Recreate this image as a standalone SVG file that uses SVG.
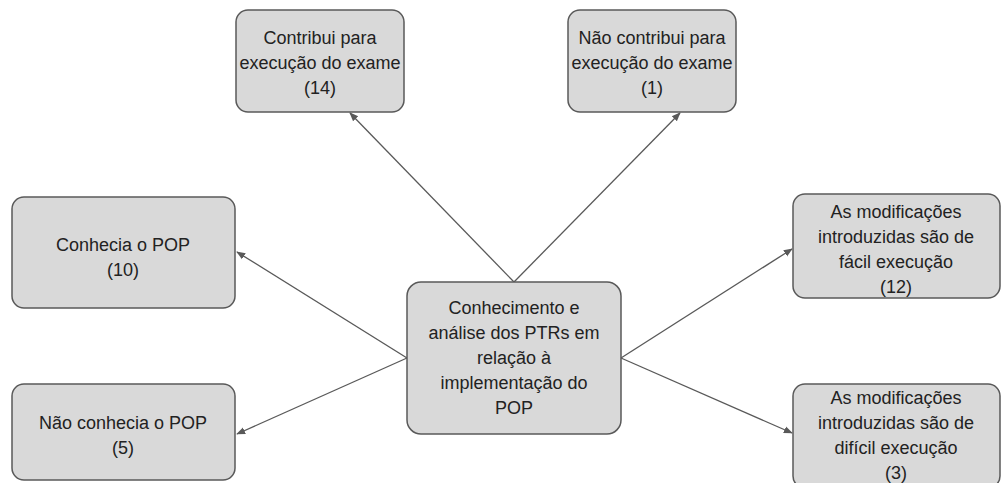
<svg xmlns="http://www.w3.org/2000/svg" width="1006" height="483" viewBox="0 0 1006 483">
<style>
.box{fill:#d9d9d9;stroke:#595959;stroke-width:1.5}
.t{font-family:"Liberation Sans",Arial,sans-serif;font-size:18px;fill:#222;text-anchor:middle;dominant-baseline:central}
.c{stroke:#595959;stroke-width:1.3;fill:none;marker-end:url(#ah)}
</style>
<defs>
<marker id="ah" viewBox="0 0 10 10" refX="9" refY="5" markerWidth="9" markerHeight="9" markerUnits="userSpaceOnUse" orient="auto">
<path d="M0,1 L10,5 L0,9 z" fill="#595959"/>
</marker>
</defs>
<rect width="1006" height="483" fill="#fff"/>
<g id="connectors">
<line class="c" x1="514" y1="282" x2="350" y2="113"/>
<line class="c" x1="514" y1="282" x2="680" y2="113"/>
<line class="c" x1="407" y1="358" x2="237" y2="252"/>
<line class="c" x1="407" y1="358" x2="237" y2="434"/>
<line class="c" x1="621" y1="358" x2="792" y2="249"/>
<line class="c" x1="621" y1="358" x2="792" y2="433"/>
</g>
<g id="n-contribui">
<rect class="box" x="236" y="10" width="168" height="102" rx="12"/>
<text class="t" x="320" y="38">Contribui para</text>
<text class="t" x="320" y="63">execução do exame</text>
<text class="t" x="320" y="88">(14)</text>
</g>
<g id="n-naocontribui">
<rect class="box" x="568" y="10" width="168" height="102" rx="12"/>
<text class="t" x="652" y="38">Não contribui para</text>
<text class="t" x="652" y="63">execução do exame</text>
<text class="t" x="652" y="88">(1)</text>
</g>
<g id="n-conhecia">
<rect class="box" x="12" y="197" width="223" height="111" rx="12"/>
<text class="t" x="123" y="245">Conhecia o POP</text>
<text class="t" x="123" y="270">(10)</text>
</g>
<g id="n-naoconhecia">
<rect class="box" x="12" y="384" width="223" height="96" rx="12"/>
<text class="t" x="123" y="423">Não conhecia o POP</text>
<text class="t" x="123" y="448">(5)</text>
</g>
<g id="n-center">
<rect class="box" x="407" y="282" width="214" height="152" rx="14"/>
<text class="t" x="514" y="308">Conhecimento e</text>
<text class="t" x="514" y="333">análise dos PTRs em</text>
<text class="t" x="514" y="358">relação à</text>
<text class="t" x="514" y="383">implementação do</text>
<text class="t" x="514" y="408">POP</text>
</g>
<g id="n-facil">
<rect class="box" x="793" y="194" width="207" height="104" rx="12"/>
<text class="t" x="896" y="212">As modificações</text>
<text class="t" x="896" y="237">introduzidas são de</text>
<text class="t" x="896" y="262">fácil execução</text>
<text class="t" x="896" y="287">(12)</text>
</g>
<g id="n-dificil">
<rect class="box" x="793" y="384" width="207" height="104" rx="12"/>
<text class="t" x="896" y="398">As modificações</text>
<text class="t" x="896" y="423">introduzidas são de</text>
<text class="t" x="896" y="448">difícil execução</text>
<text class="t" x="896" y="473">(3)</text>
</g>
</svg>
